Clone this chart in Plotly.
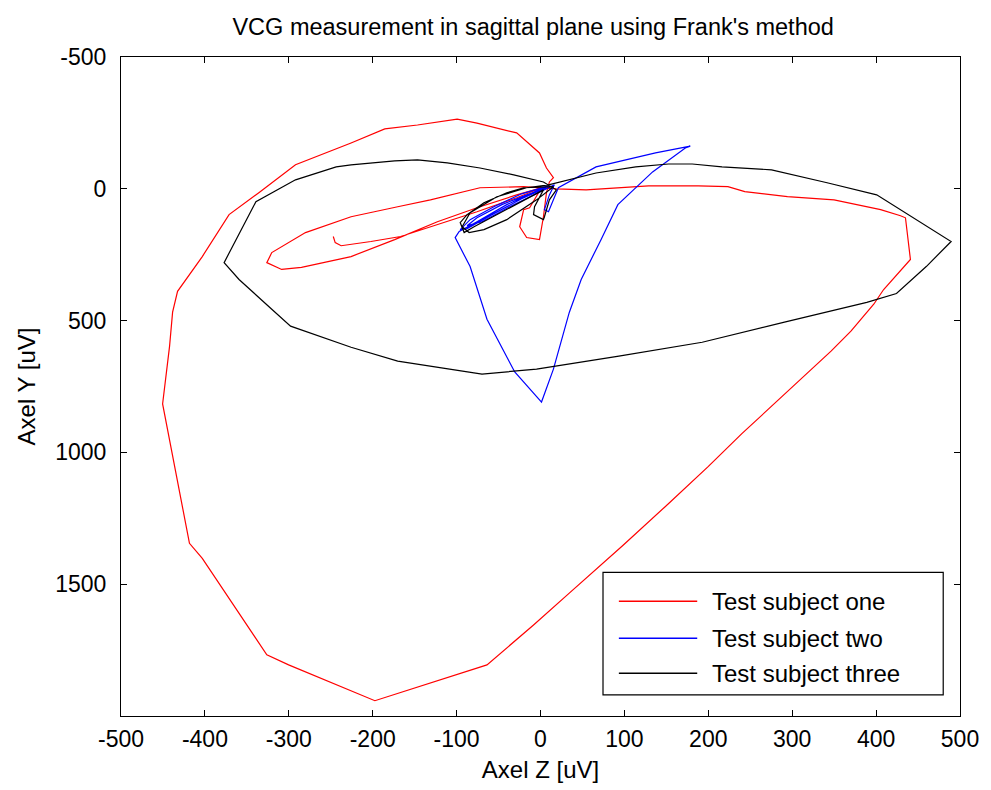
import plotly.graph_objects as go

# Subject one (red)
s1_z = [-247.0, -244.7, -237.6, -202.1, -166.7, -122.9, -75.7, -28.4, 1.2,
        -13.0, -20.1, -24.8, -16.5, -1.2, 3.5, 7.1, 10.6,
        15.4, 7.1, -1.2, -28.4, -75.7, -99.3, -146.6, -185.6, -225.8, -292.0, -335.7,
        -371.2, -403.1, -432.6, -438.5, -442.1, -450.4, -418.4, -403.1, -326.2, -300.2,
        -197.4, -63.8, -8.3, 34.3, 98.1, 148.9, 199.8, 240.0, 275.4, 310.9, 346.3, 370.0,
        397.2, 409.0, 440.9, 435.0, 429.1, 405.4, 349.9, 294.3, 243.5, 223.4, 187.9,
        128.8, 89.8, 54.4, 18.9,
        -20.1, -72.1, -131.2, -170.2, -225.8, -280.1, -320.3, -326.2, -308.5, -284.9,
        -225.8, -173.8, -122.9, -75.7, -28.4, 1.2]
s1_y = [181, 204, 216, 200, 181, 136, 87, 34, -4,
        72, 79, 144, 185, 193, 106, 15, -26,
        -42, -79, -136, -212, -249, -264, -242, -227, -174, -91, 15,
        98, 257, 389, 468, 597, 816, 1345, 1402, 1768, 1806,
        1942, 1806, 1655, 1534, 1353, 1205, 1054, 929, 824, 722, 616, 540,
        438, 382, 268, 110, 102, 79, 42, 30, 11, -8, -11,
        -11, -4, 4, 0,
        -8, -4, 42, 68, 106, 166, 242, 280, 306, 298,
        257, 193, 125, 72, 23, -4]

# Subject two (blue)
s2_z = [9.5, -22.5, -55.6, -83.9, -95.7, -87.5, -57.9, -22.5, 7.1,
        -16.5, -46.1, -75.7, -87.5, -69.7, -34.3, 1.2, 16.5,
        10.6, 4.7, 9.5, 16.5, 21.3,
        66.2, 137.1, 178.5, 172.6, 133.6, 92.2, 72.1, 48.5, 34.3, 15.4, 1.2,
        -30.7, -63.8, -83.9, -101.7, -96.9, -75.7, -40.2, -4.7, 9.5]
s2_y = [-11, 19, 68, 117, 155, 151, 98, 38, -4,
        23, 60, 110, 140, 125, 64, 8, -15,
        23, 79, 87, 34, -4,
        -83, -136, -162, -155, -64, 60, 193, 344, 469, 684, 809,
        695, 495, 295, 185, 162, 125, 60, 8, -11]

# Subject three (black)
s3_z = [9.5, -16.5, -52.0, -83.9, -93.4, -85.1, -67.4, -40.2, -4.7, 15.4,
        -20.1, -40.2, -67.4, -87.5, -95.7, -91.0, -79.2, -52.0, -24.8, 3.5,
        -7.1, -8.3, 3.5, 4.7, 10.6, 18.9,
        3.5, -31.9, -72.1, -111.1, -146.6, -173.8, -225.8, -243.5, -292.0, -339.2,
        -377.1, -359.3, -320.3, -297.9, -225.8, -170.2, -69.7, -4.7, 93.4, 192.7,
        290.8, 388.9, 424.3, 459.8, 489.4, 429.1, 400.7, 341.6, 302.6, 275.4,
        216.3, 180.9, 152.5, 113.5, 66.2, 24.8, 9.5]
s3_y = [-15, -4, 30, 91, 144, 166, 155, 117, 42, -8,
        -4, 15, 53, 98, 128, 166, 144, 98, 49, 4,
        68, 98, 117, 106, 42, 4,
        -26, -53, -79, -98, -110, -106, -91, -83, -34, 49,
        280, 344, 457, 521, 601, 654, 703, 684, 635, 582,
        506, 431, 397, 295, 200, 79, 23, -23, -53, -72,
        -83, -94, -94, -83, -60, -26, -15]

series_names = ["Test subject one", "Test subject two", "Test subject three"]
series_colors = ["#ff0000", "#0000ff", "#000000"]

x_ticks = [-500, -400, -300, -200, -100, 0, 100, 200, 300, 400, 500]
y_ticks = [-500, 0, 500, 1000, 1500]

FONT = "Liberation Sans, Arial, sans-serif"

fig = go.Figure()
for z, y, name, col in zip([s1_z, s2_z, s3_z], [s1_y, s2_y, s3_y], series_names, series_colors):
    fig.add_trace(go.Scatter(x=z, y=y, mode="lines", name=name, showlegend=False,
                             line=dict(color=col, width=1.2)))

axis_common = dict(showgrid=False, zeroline=False, showline=True, linecolor="black",
                   linewidth=1, mirror="ticks", ticks="inside", ticklen=6,
                   tickcolor="black", tickfont=dict(family=FONT, size=23, color="black"))

# MATLAB-style legend box (paper coordinates)
leg_x0, leg_x1, leg_y0, leg_y1 = 0.5745, 0.98, 0.032, 0.218
leg_line_x0, leg_line_x1, leg_text_x = 0.5934, 0.6868, 0.702
leg_rows_y = [0.174, 0.118, 0.065]

shapes = [dict(type="rect", xref="paper", yref="paper", x0=leg_x0, x1=leg_x1,
               y0=leg_y0, y1=leg_y1, line=dict(color="black", width=1.2),
               fillcolor="white", layer="above")]
annotations = []
for name, col, ry in zip(series_names, series_colors, leg_rows_y):
    shapes.append(dict(type="line", xref="paper", yref="paper", x0=leg_line_x0,
                       x1=leg_line_x1, y0=ry, y1=ry, line=dict(color=col, width=1.5),
                       layer="above"))
    annotations.append(dict(xref="paper", yref="paper", x=leg_text_x, y=ry, text=name,
                            showarrow=False, xanchor="left", yanchor="middle",
                            font=dict(family=FONT, size=24, color="black")))

fig.update_layout(
    width=991, height=790,
    margin=dict(l=121, r=24, t=57, b=72),
    paper_bgcolor="white", plot_bgcolor="white",
    title=dict(text="VCG measurement in sagittal plane using Frank's method",
               x=0.538, xanchor="center", y=0.966, yanchor="middle",
               font=dict(family=FONT, size=23.5, color="black")),
    xaxis=dict(range=[-500, 500], tickvals=x_ticks, ticktext=[str(v) for v in x_ticks],
               ticklabelstandoff=2,
               title=dict(text="Axel Z [uV]", font=dict(family=FONT, size=24, color="black"), standoff=10),
               **axis_common),
    yaxis=dict(range=[2000, -500], tickvals=y_ticks, ticktext=[str(v) for v in y_ticks],
               ticklabelstandoff=9,
               title=dict(text="Axel Y [uV]", font=dict(family=FONT, size=24, color="black"), standoff=12),
               **axis_common),
    shapes=shapes,
    annotations=annotations,
    showlegend=False,
)

fig.write_html("out.html")
